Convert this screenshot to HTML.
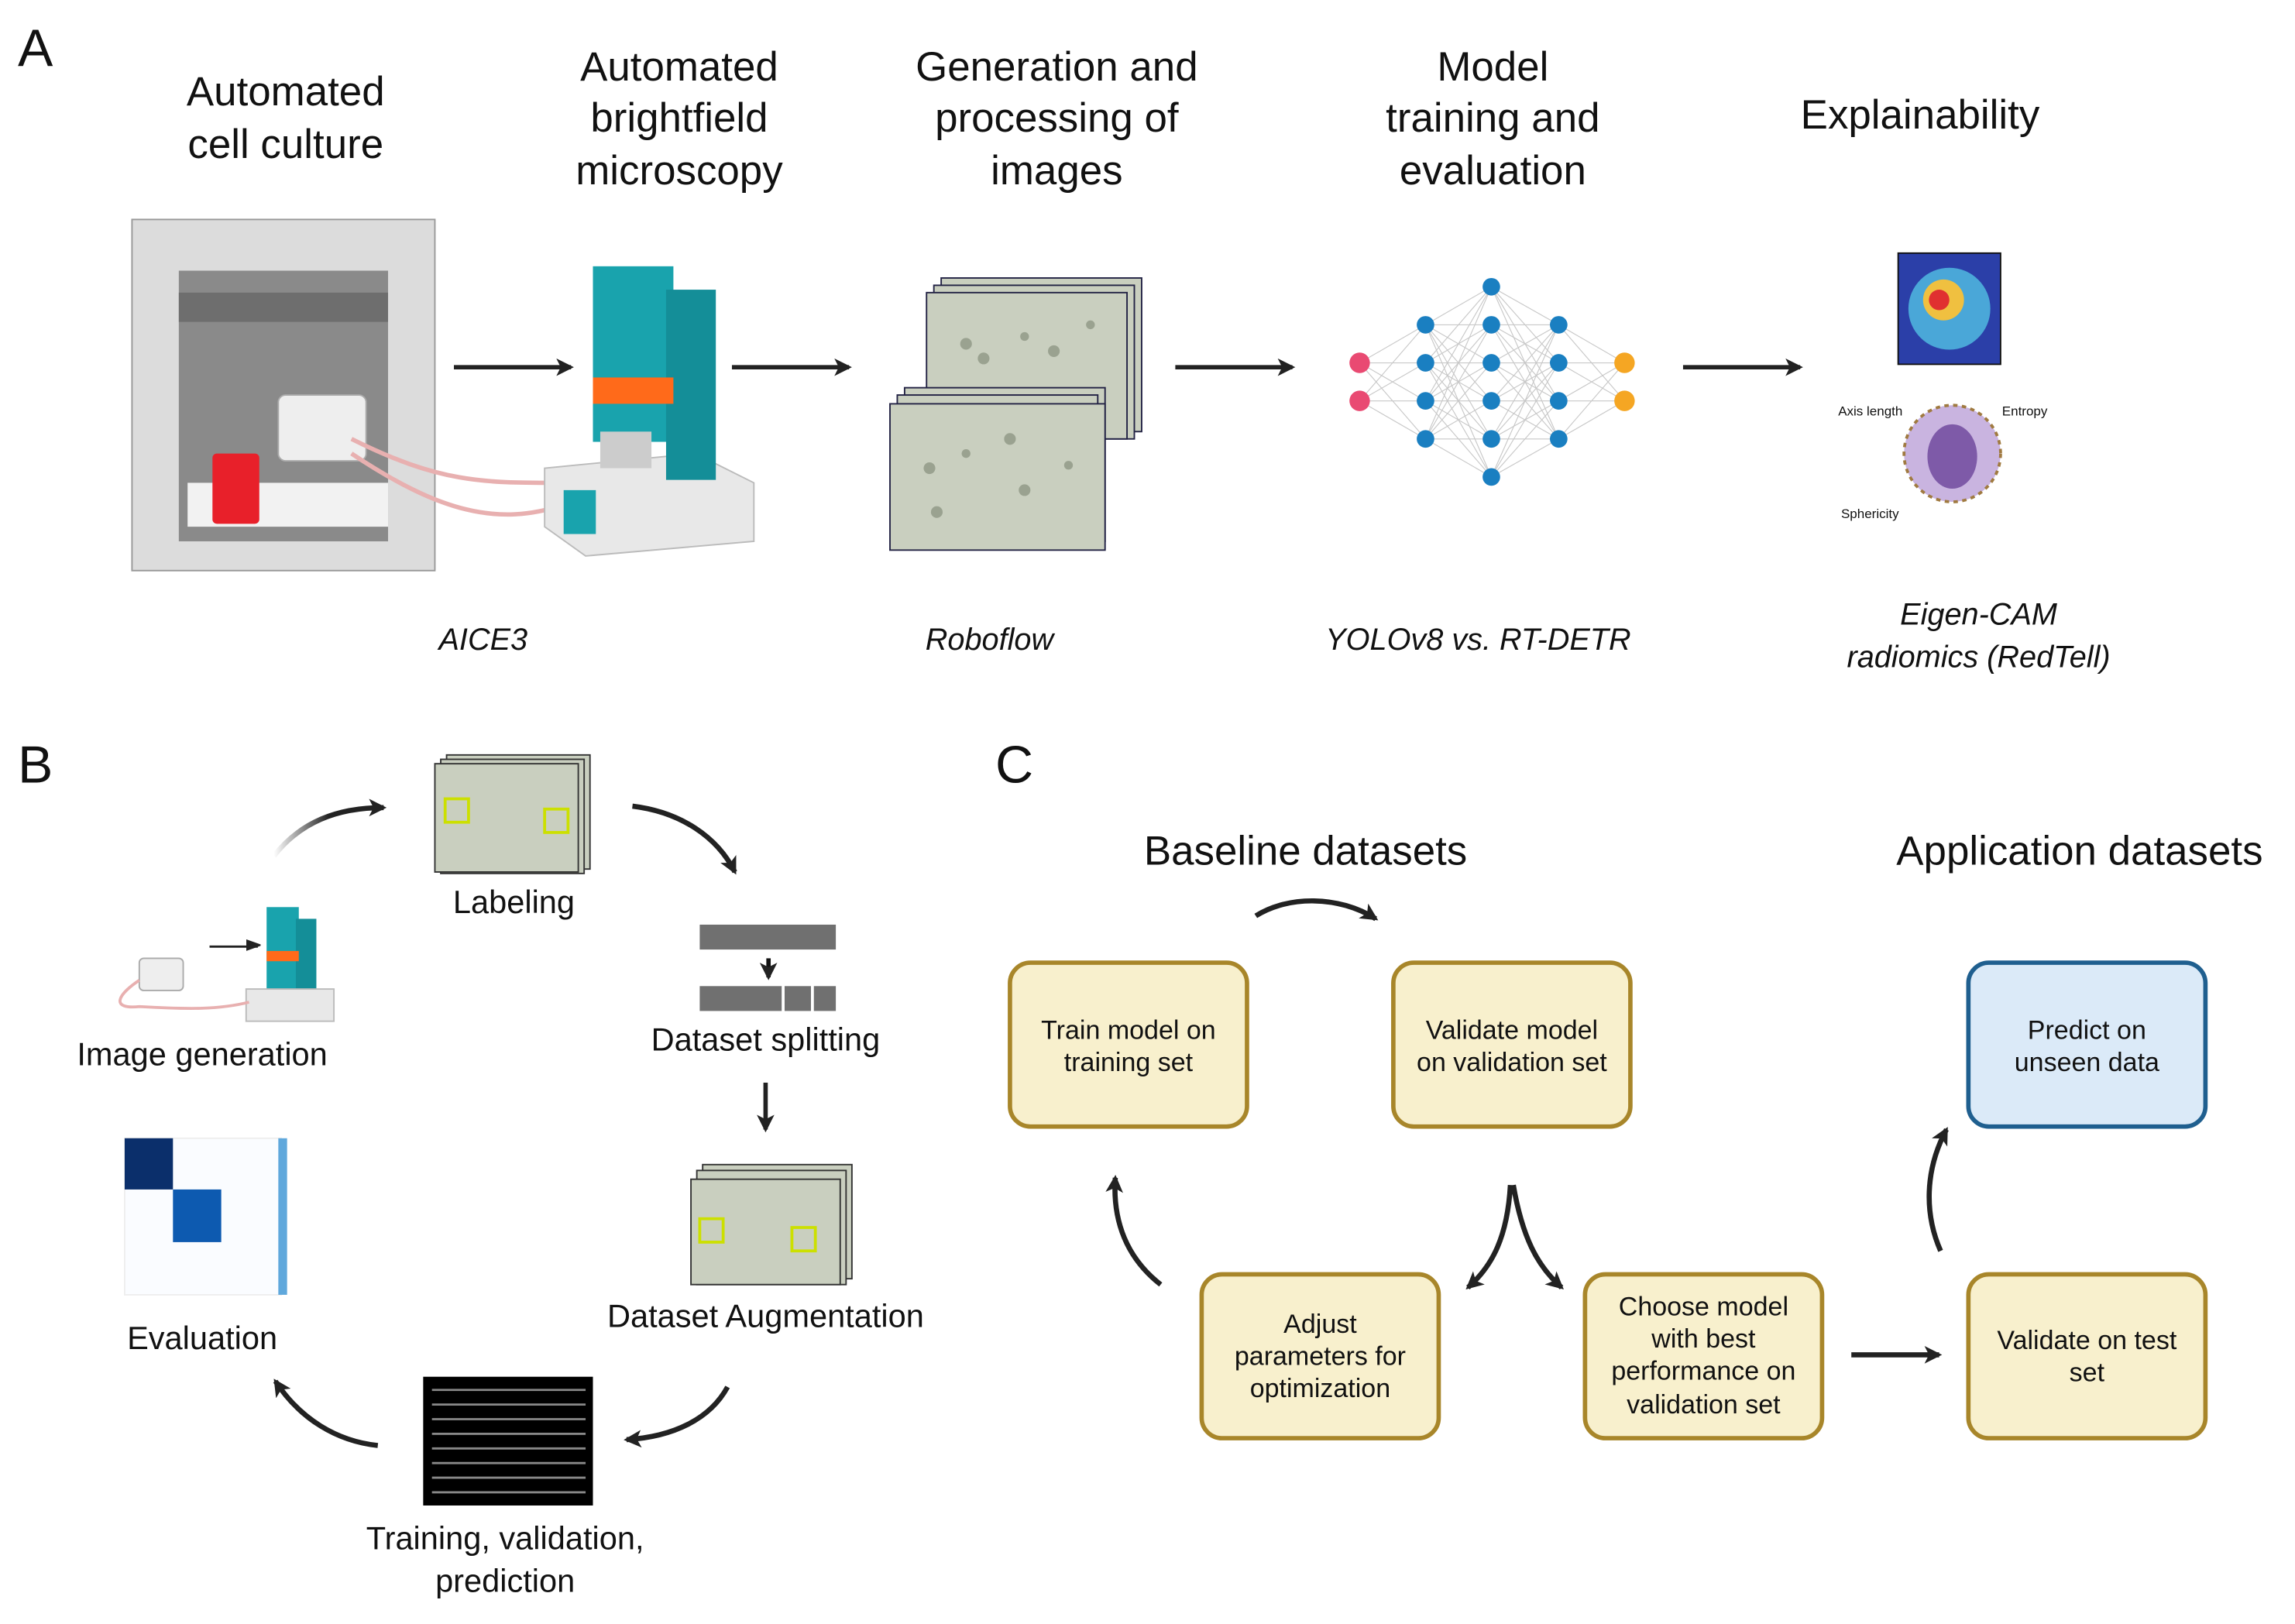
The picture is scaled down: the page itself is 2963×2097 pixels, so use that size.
<!DOCTYPE html>
<html><head><meta charset="utf-8"><style>
html,body{margin:0;padding:0;background:#fff}
svg{display:block}
text{font-family:"Liberation Sans",sans-serif;fill:#111}
</style></head><body>
<svg width="2963" height="2097" viewBox="0 0 1568 1110" xmlns="http://www.w3.org/2000/svg">
<defs>
<marker id="ah" markerWidth="10" markerHeight="10" refX="8" refY="5" orient="auto" markerUnits="userSpaceOnUse"><path d="M0,0 L14,5 L0,10 Z" fill="#222" transform="scale(0.8)"/></marker>
<marker id="ah2" markerWidth="14" markerHeight="14" refX="10" refY="6" orient="auto" markerUnits="userSpaceOnUse"><path d="M0,0 L12,6 L0,12 L3,6 Z" fill="#222"/></marker>
<linearGradient id="fade" x1="0" x2="1"><stop offset="0" stop-color="#222" stop-opacity="0"/><stop offset="0.5" stop-color="#222"/></linearGradient>
</defs>
<!-- Panel A -->
<text x="12" y="45" font-size="36">A</text>
<g font-size="28" text-anchor="middle">
<text x="195" y="72">Automated</text><text x="195" y="108">cell culture</text>
<text x="464" y="55">Automated</text><text x="464" y="90">brightfield</text><text x="464" y="126">microscopy</text>
<text x="722" y="55">Generation and</text><text x="722" y="90">processing of</text><text x="722" y="126">images</text>
<text x="1020" y="55">Model</text><text x="1020" y="90">training and</text><text x="1020" y="126">evaluation</text>
<text x="1312" y="88">Explainability</text>
</g>
<!-- incubator -->
<rect x="90" y="150" width="207" height="240" fill="#dcdcdc" stroke="#999"/>
<rect x="122" y="185" width="143" height="185" fill="#8a8a8a"/>
<rect x="122" y="200" width="143" height="20" fill="#6e6e6e"/>
<rect x="128" y="330" width="137" height="30" fill="#f2f2f2"/>
<rect x="145" y="310" width="32" height="48" fill="#e8202a" rx="3"/>
<rect x="190" y="270" width="60" height="45" fill="#eee" stroke="#aaa" rx="5"/>
<path d="M240,300 C300,330 330,330 380,330" stroke="#e8b0b0" stroke-width="3" fill="none"/>
<path d="M240,310 C300,350 340,360 385,345" stroke="#e8b0b0" stroke-width="3" fill="none"/>
<!-- microscope -->
<path d="M372,320 L475,310 L515,330 L515,370 L400,380 L372,360 Z" fill="#e8e8e8" stroke="#bbb"/>
<rect x="405" y="182" width="55" height="120" fill="#19a3ad"/>
<rect x="455" y="198" width="34" height="130" fill="#148e98"/>
<rect x="405" y="258" width="55" height="18" fill="#ff6a1a"/>
<rect x="410" y="295" width="35" height="25" fill="#ccc"/>
<rect x="385" y="335" width="22" height="30" fill="#19a3ad"/>
<!-- image stacks -->
<g stroke="#224" fill="#c9cfbf">
<rect x="643" y="190" width="137" height="105"/><rect x="638" y="195" width="137" height="105"/><rect x="633" y="200" width="137" height="100"/>
<rect x="618" y="265" width="137" height="105"/><rect x="613" y="270" width="137" height="105"/><rect x="608" y="276" width="147" height="100"/>
</g>
<g fill="#9aa290">
<circle cx="660" cy="235" r="4"/><circle cx="672" cy="245" r="4"/><circle cx="700" cy="230" r="3"/><circle cx="720" cy="240" r="4"/><circle cx="745" cy="222" r="3"/>
<circle cx="635" cy="320" r="4"/><circle cx="660" cy="310" r="3"/><circle cx="690" cy="300" r="4"/><circle cx="700" cy="335" r="4"/><circle cx="730" cy="318" r="3"/><circle cx="640" cy="350" r="4"/>
</g>
<!-- arrows A -->
<g stroke="#222" stroke-width="3" marker-end="url(#ah2)">
<line x1="310" y1="251" x2="390" y2="251"/><line x1="500" y1="251" x2="580" y2="251"/>
<line x1="803" y1="251" x2="883" y2="251"/><line x1="1150" y1="251" x2="1230" y2="251"/>
</g>
<!-- NN -->
<g stroke="#c8c8c8" stroke-width="0.6" fill="none">
<path d="M929,248L974,222M929,248L974,248M929,248L974,274M929,248L974,300M929,274L974,222M929,274L974,248M929,274L974,274M929,274L974,300"/>
<path d="M974,222L1019,196M974,222L1019,222M974,222L1019,248M974,222L1019,274M974,222L1019,300M974,222L1019,326
M974,248L1019,196M974,248L1019,222M974,248L1019,248M974,248L1019,274M974,248L1019,300M974,248L1019,326
M974,274L1019,196M974,274L1019,222M974,274L1019,248M974,274L1019,274M974,274L1019,300M974,274L1019,326
M974,300L1019,196M974,300L1019,222M974,300L1019,248M974,300L1019,274M974,300L1019,300M974,300L1019,326"/>
<path d="M1065,222L1019,196M1065,222L1019,222M1065,222L1019,248M1065,222L1019,274M1065,222L1019,300M1065,222L1019,326
M1065,248L1019,196M1065,248L1019,222M1065,248L1019,248M1065,248L1019,274M1065,248L1019,300M1065,248L1019,326
M1065,274L1019,196M1065,274L1019,222M1065,274L1019,248M1065,274L1019,274M1065,274L1019,300M1065,274L1019,326
M1065,300L1019,196M1065,300L1019,222M1065,300L1019,248M1065,300L1019,274M1065,300L1019,300M1065,300L1019,326"/>
<path d="M1110,248L1065,222M1110,248L1065,248M1110,248L1065,274M1110,248L1065,300M1110,274L1065,222M1110,274L1065,248M1110,274L1065,274M1110,274L1065,300"/>
</g>
<g fill="#1a7fc1">
<circle cx="974" cy="222" r="6"/><circle cx="974" cy="248" r="6"/><circle cx="974" cy="274" r="6"/><circle cx="974" cy="300" r="6"/>
<circle cx="1019" cy="196" r="6"/><circle cx="1019" cy="222" r="6"/><circle cx="1019" cy="248" r="6"/><circle cx="1019" cy="274" r="6"/><circle cx="1019" cy="300" r="6"/><circle cx="1019" cy="326" r="6"/>
<circle cx="1065" cy="222" r="6"/><circle cx="1065" cy="248" r="6"/><circle cx="1065" cy="274" r="6"/><circle cx="1065" cy="300" r="6"/>
</g>
<circle cx="929" cy="248" r="7" fill="#e94a72"/><circle cx="929" cy="274" r="7" fill="#e94a72"/>
<circle cx="1110" cy="248" r="7" fill="#f5a623"/><circle cx="1110" cy="274" r="7" fill="#f5a623"/>
<!-- explainability -->
<rect x="1297" y="173" width="70" height="76" fill="#2b3fa8" stroke="#111"/>
<circle cx="1332" cy="211" r="28" fill="#4aa7d8"/><circle cx="1328" cy="205" r="14" fill="#f0c040"/><circle cx="1325" cy="205" r="7" fill="#e03030"/>
<circle cx="1334" cy="310" r="33" fill="#c9b4e0" stroke="#a07a40" stroke-dasharray="3 3" stroke-width="2"/>
<ellipse cx="1334" cy="312" rx="17" ry="22" fill="#7e5aa8"/>
<g font-size="9"><text x="1256" y="284">Axis length</text><text x="1368" y="284">Entropy</text><text x="1258" y="354">Sphericity</text></g>
<g font-size="21" font-style="italic" text-anchor="middle">
<text x="330" y="444">AICE3</text><text x="676" y="444">Roboflow</text><text x="1010" y="444">YOLOv8 vs. RT-DETR</text>
<text x="1352" y="427">Eigen-CAM</text><text x="1352" y="456">radiomics (RedTell)</text>
</g>
<!-- Panel B -->
<text x="12" y="535" font-size="36">B</text>
<text x="680" y="535" font-size="36">C</text>
<g stroke="#333" fill="#c9cfbf"><rect x="305" y="516" width="98" height="78"/><rect x="301" y="519" width="98" height="78"/><rect x="297" y="522" width="98" height="74"/></g>
<rect x="304" y="546" width="16" height="16" fill="none" stroke="#cce000" stroke-width="2"/><rect x="372" y="553" width="16" height="16" fill="none" stroke="#cce000" stroke-width="2"/>
<g stroke="#333" fill="#c9cfbf"><rect x="480" y="796" width="102" height="78"/><rect x="476" y="800" width="102" height="78"/><rect x="472" y="806" width="102" height="72"/></g>
<rect x="478" y="833" width="16" height="16" fill="none" stroke="#cce000" stroke-width="2"/><rect x="541" y="839" width="16" height="16" fill="none" stroke="#cce000" stroke-width="2"/>
<rect x="478" y="632" width="93" height="17" fill="#707070"/>
<rect x="478" y="674" width="56" height="17" fill="#707070"/><rect x="536" y="674" width="18" height="17" fill="#707070"/><rect x="556" y="674" width="15" height="17" fill="#707070"/>
<path d="M525,655 V668" stroke="#111" stroke-width="3" marker-end="url(#ah2)"/>
<path d="M523,740 V772" stroke="#222" stroke-width="3" marker-end="url(#ah2)"/>
<rect x="289" y="941" width="116" height="88" fill="#000"/>
<g stroke="#888" stroke-width="1.5"><line x1="295" y1="950" x2="400" y2="950"/><line x1="295" y1="960" x2="400" y2="960"/><line x1="295" y1="970" x2="400" y2="970"/><line x1="295" y1="980" x2="400" y2="980"/><line x1="295" y1="990" x2="400" y2="990"/><line x1="295" y1="1000" x2="400" y2="1000"/><line x1="295" y1="1010" x2="400" y2="1010"/><line x1="295" y1="1020" x2="400" y2="1020"/></g>
<!-- confusion matrix -->
<rect x="85" y="778" width="107" height="107" fill="#fafcff" stroke="#eee"/>
<rect x="85" y="778" width="33" height="35" fill="#0b2f6b"/><rect x="118" y="813" width="33" height="36" fill="#0d5ab0"/>
<rect x="190" y="778" width="6" height="107" fill="#5fa8dc"/>
<!-- small microscope in B -->
<rect x="182" y="620" width="22" height="60" fill="#19a3ad"/><rect x="202" y="628" width="14" height="60" fill="#148e98"/><rect x="182" y="650" width="22" height="7" fill="#ff6a1a"/>
<rect x="168" y="676" width="60" height="22" fill="#e8e8e8" stroke="#bbb"/>
<rect x="95" y="655" width="30" height="22" fill="#eee" stroke="#aaa" rx="3"/>
<path d="M95,670 C80,680 75,690 95,688 C130,690 150,690 170,685" stroke="#e8b0b0" stroke-width="2" fill="none"/>
<path d="M143,647 H176" stroke="#222" stroke-width="1.5" marker-end="url(#ah)"/>
<g font-size="22" text-anchor="middle">
<text x="351" y="624">Labeling</text><text x="138" y="728">Image generation</text><text x="523" y="718">Dataset splitting</text>
<text x="523" y="907">Dataset Augmentation</text><text x="138" y="922">Evaluation</text>
<text x="345" y="1059">Training, validation,</text><text x="345" y="1088">prediction</text>
</g>
<g stroke-width="3.5" fill="none" marker-end="url(#ah2)" stroke="url(#fade)">
<path d="M187,585 C205,562 230,552 262,552"/>
<path d="M432,551 C465,555 490,572 502,596" stroke="#222"/>
<path d="M497,948 C485,970 460,982 428,984" stroke="#222"/>
<path d="M258,988 C230,985 205,970 188,944" stroke="#222"/>
</g>
<!-- Panel C -->
<g font-size="28" text-anchor="middle"><text x="892" y="591">Baseline datasets</text><text x="1421" y="591">Application datasets</text></g>
<g stroke="#a8862a" stroke-width="3" fill="#f8f0cd">
<rect x="690" y="658" width="162" height="112" rx="14"/><rect x="952" y="658" width="162" height="112" rx="14"/>
<rect x="821" y="871" width="162" height="112" rx="14"/><rect x="1083" y="871" width="162" height="112" rx="14"/>
<rect x="1345" y="871" width="162" height="112" rx="14"/>
</g>
<rect x="1345" y="658" width="162" height="112" rx="14" fill="#dbeaf8" stroke="#1f5f8f" stroke-width="3"/>
<g font-size="18" text-anchor="middle">
<text x="771" y="710">Train model on</text><text x="771" y="732">training set</text>
<text x="1033" y="710">Validate model</text><text x="1033" y="732">on validation set</text>
<text x="1426" y="710">Predict on</text><text x="1426" y="732">unseen data</text>
<text x="902" y="911">Adjust</text><text x="902" y="933">parameters for</text><text x="902" y="955">optimization</text>
<text x="1164" y="899">Choose model</text><text x="1164" y="921">with best</text><text x="1164" y="943">performance on</text><text x="1164" y="966">validation set</text>
<text x="1426" y="922">Validate on test</text><text x="1426" y="944">set</text>
</g>
<g stroke="#222" stroke-width="3.5" fill="none" marker-end="url(#ah2)">
<path d="M858,626 C880,612 915,612 940,628"/>
<path d="M1032,810 C1030,845 1020,865 1003,880"/>
<path d="M1034,810 C1040,845 1050,865 1067,880"/>
<path d="M793,878 C770,860 760,835 762,805"/>
<path d="M1265,926 H1325"/>
<path d="M1326,855 C1315,830 1315,800 1330,772"/>
</g>
</svg>
</body></html>
